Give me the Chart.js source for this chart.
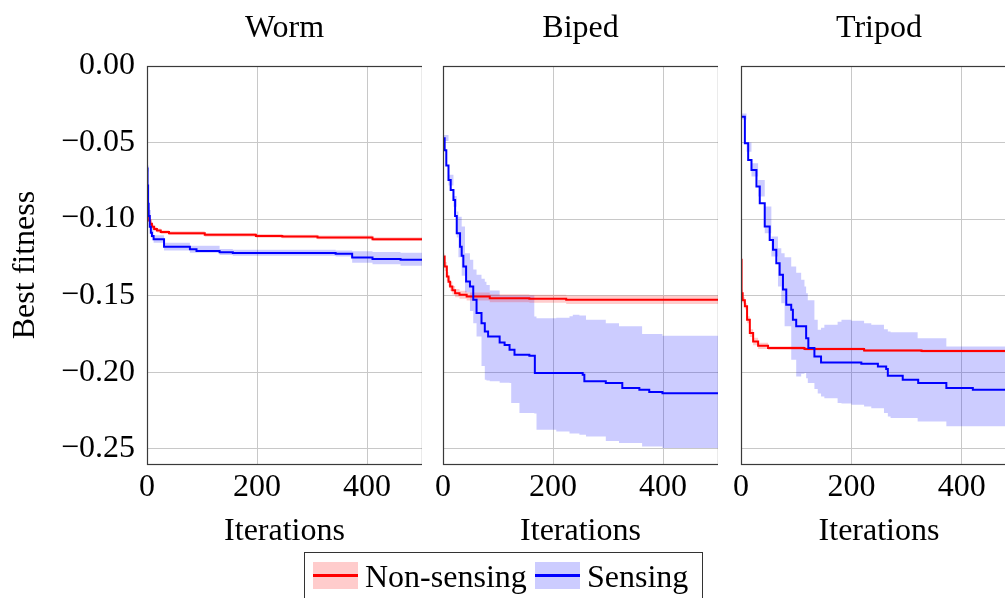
<!DOCTYPE html>
<html>
<head>
<meta charset="utf-8">
<script src="https://cdn.jsdelivr.net/npm/chart.js@4/dist/chart.umd.min.js"></script>
<style>
  html, body { margin: 0; padding: 0; background: #fff; overflow: hidden; width: 1005px; height: 598px; }
  canvas { position: absolute; top: 0; }
  #legend { position: absolute; left: 304px; top: 552px; width: 399px; height: 60px;
            border: 1px solid #333; box-sizing: border-box; font: 32px 'Liberation Serif', serif; color: #000; }
  #legend .sw { position: absolute; top: 9px; width: 45px; height: 27px; }
  #legend .lbl { position: absolute; top: 1px; line-height: 44px; white-space: nowrap; }
</style>
</head>
<body>
<canvas id="chart-worm"   width="422" height="551" style="left:0px"></canvas>
<canvas id="chart-biped"  width="422" height="551" style="left:296px"></canvas>
<canvas id="chart-tripod" width="423" height="551" style="left:594px"></canvas>

<div id="legend">
  <span class="sw" style="left:8px;background:linear-gradient(to bottom, transparent 12px, #f00 12px, #f00 15px, transparent 15px), rgba(255,0,0,0.2)"></span>
  <span class="lbl" style="left:60px">Non-sensing</span>
  <span class="sw" style="left:230px;background:linear-gradient(to bottom, transparent 12px, #00f 12px, #00f 15px, transparent 15px), rgba(0,0,255,0.2)"></span>
  <span class="lbl" style="left:282px">Sensing</span>
</div>

<script>
/*  Best fitness vs iterations, three robots side by side.
 *  Each panel: mean line + shaded spread for the non-sensing (red)
 *  and sensing (blue) runs.
 *  Panel name sits on a bare top axis so it centres over the plot box.
 */

const RED = '#ff0000'
const BLUE = '#0000ff'
const RED_BAND = 'rgba(255,0,0,0.2)'
const BLUE_BAND = 'rgba(0,0,255,0.2)'
const GRID = '#c8c8c8'
const AXIS = '#3a3a3a'
const FONT = { family: "'Liberation Serif', serif", size: 32, weight: 'normal' }

const X_MIN = 0, X_MAX = 500, X_STEP = 200
const Y_MIN = -0.26, Y_MAX = 0, Y_STEP = 0.05

// ---- Worm ----
const wormRedX  = [0, 2, 4, 6, 9, 13, 18, 25, 40, 105, 198, 246, 310, 410, 500]
const wormRedY  = [-0.093, -0.098, -0.101, -0.103, -0.105, -0.1065, -0.1075, -0.1085, -0.1092, -0.1103, -0.111, -0.1114, -0.112, -0.1131, -0.1131]
const wormRedHi = [-0.0915, -0.0965, -0.0995, -0.1015, -0.1035, -0.1052, -0.1062, -0.1073, -0.108, -0.1091, -0.1098, -0.1102, -0.1108, -0.1119, -0.1119]
const wormRedLo = [-0.0945, -0.0995, -0.1025, -0.1045, -0.1065, -0.1078, -0.1088, -0.1097, -0.1104, -0.1115, -0.1122, -0.1126, -0.1132, -0.1143, -0.1143]

const wormBlueX = [0, 1, 2, 3, 5, 7, 9, 12, 31, 78, 90, 132, 156, 343, 373, 410, 461, 500]
const wormBlueY = [-0.067, -0.078, -0.090, -0.098, -0.105, -0.109, -0.111, -0.1131, -0.118, -0.1197, -0.1208, -0.1216, -0.1221, -0.1227, -0.1251, -0.126, -0.1266, -0.1266]
const wormBandX  = [0, 3, 7, 12, 31, 78, 132, 156, 343, 373, 410, 461, 500]
const wormBandHi = [-0.065, -0.094, -0.106, -0.1105, -0.1155, -0.1175, -0.1195, -0.120, -0.1205, -0.121, -0.1215, -0.122, -0.122]
const wormBandLo = [-0.069, -0.102, -0.112, -0.1155, -0.1205, -0.122, -0.1235, -0.124, -0.1245, -0.1285, -0.1295, -0.1305, -0.1305]

// ---- Biped ----
const bipedRedX  = [0, 3, 7, 10, 13, 17, 22, 30, 43, 85, 157, 224, 500]
const bipedRedY  = [-0.1245, -0.131, -0.1375, -0.141, -0.144, -0.1465, -0.1484, -0.1495, -0.1506, -0.1517, -0.152, -0.1527, -0.1532]
const bipedRedHi = [-0.1225, -0.128, -0.1345, -0.138, -0.141, -0.1437, -0.1457, -0.1469, -0.148, -0.1491, -0.1494, -0.150, -0.1505]
const bipedRedLo = [-0.1265, -0.134, -0.1405, -0.144, -0.147, -0.1493, -0.1511, -0.1521, -0.1532, -0.1543, -0.1546, -0.1554, -0.1559]

const bipedBlueX = [0, 3, 6, 10, 14, 19, 22, 25, 31, 34, 37, 42, 49, 55, 61, 70, 76, 82, 103, 112, 121, 130, 157, 167, 254, 257, 296, 326, 357, 375, 399, 500]
const bipedBlueY = [-0.0472, -0.055, -0.065, -0.0744, -0.081, -0.0875, -0.098, -0.1092, -0.118, -0.124, -0.131, -0.1408, -0.144, -0.1527, -0.1614, -0.168, -0.1734, -0.1767, -0.1806, -0.1822, -0.1854, -0.1886, -0.1893, -0.2006, -0.2017, -0.206, -0.2071, -0.2104, -0.2115, -0.213, -0.2137, -0.2137]
const bipedBandX  = [0, 10, 19, 25, 28, 34, 40, 49, 55, 61, 70, 76, 79, 85, 103, 121, 124, 139, 166, 170, 176, 206, 230, 236, 248, 260, 296, 320, 362, 399, 500]
const bipedBandHi = [-0.045, -0.071, -0.085, -0.095, -0.0984, -0.1049, -0.1223, -0.1266, -0.133, -0.1364, -0.139, -0.141, -0.143, -0.1467, -0.150, -0.150, -0.150, -0.150, -0.1636, -0.1648, -0.1648, -0.1645, -0.1635, -0.1625, -0.163, -0.1658, -0.168, -0.170, -0.175, -0.1763, -0.1765]
const bipedBandLo = [-0.049, -0.078, -0.092, -0.112, -0.125, -0.137, -0.148, -0.160, -0.168, -0.1767, -0.196, -0.205, -0.2055, -0.206, -0.207, -0.2071, -0.2202, -0.2267, -0.227, -0.2376, -0.2376, -0.2387, -0.240, -0.240, -0.2409, -0.242, -0.245, -0.2463, -0.2485, -0.2496, -0.2503]

// ---- Tripod ----
const tripodRedX  = [0, 1, 3, 7, 11, 16, 22, 31, 49, 115, 223, 327, 500]
const tripodRedY  = [-0.1266, -0.1484, -0.153, -0.157, -0.1658, -0.1745, -0.180, -0.1828, -0.1843, -0.1849, -0.1858, -0.1862, -0.1864]
const tripodRedHi = [-0.1256, -0.146, -0.151, -0.155, -0.1635, -0.172, -0.1775, -0.1808, -0.1831, -0.1839, -0.1848, -0.1852, -0.1854]
const tripodRedLo = [-0.1276, -0.1508, -0.155, -0.159, -0.168, -0.177, -0.1825, -0.1848, -0.1855, -0.1859, -0.1868, -0.1872, -0.1874]

const tripodBlueX = [0, 7, 13, 19, 28, 34, 43, 52, 58, 64, 70, 76, 82, 91, 94, 100, 118, 122, 133, 145, 218, 248, 263, 266, 293, 321, 372, 420, 500]
const tripodBlueY = [-0.0331, -0.0505, -0.0614, -0.0679, -0.0788, -0.0896, -0.1049, -0.1136, -0.120, -0.1288, -0.1364, -0.146, -0.156, -0.1593, -0.1658, -0.170, -0.1778, -0.1843, -0.1898, -0.1937, -0.1945, -0.1963, -0.198, -0.2023, -0.205, -0.2071, -0.2104, -0.2115, -0.2115]
const tripodBandX  = [0, 10, 19, 31, 43, 55, 67, 73, 79, 91, 100, 109, 115, 118, 121, 133, 139, 145, 151, 175, 182, 200, 223, 236, 259, 266, 271, 320, 372, 500]
const tripodBandHi = [-0.031, -0.05, -0.0635, -0.0744, -0.0918, -0.1114, -0.119, -0.1223, -0.125, -0.131, -0.135, -0.1397, -0.144, -0.1484, -0.153, -0.1658, -0.1723, -0.171, -0.169, -0.167, -0.1658, -0.1665, -0.168, -0.169, -0.172, -0.1734, -0.174, -0.1778, -0.1832, -0.1843]
const tripodBandLo = [-0.035, -0.056, -0.0722, -0.0853, -0.1092, -0.1245, -0.144, -0.155, -0.170, -0.1919, -0.2028, -0.201, -0.2006, -0.204, -0.2071, -0.211, -0.214, -0.2159, -0.217, -0.2202, -0.2205, -0.2213, -0.2224, -0.2235, -0.2267, -0.229, -0.230, -0.2322, -0.2354, -0.2376]

const pts = (xs, ys) => xs.map((x, i) => ({ x, y: ys[i] }))
const fmtY = v => (v < -1e-9 ? '\u2212' : '') + Math.abs(v).toFixed(2)

// pgfplots-style closed box round the plot area
const frame = {
  id: 'frame',
  afterDatasetsDraw(chart) {
    const { ctx, chartArea: a } = chart
    ctx.save()
    ctx.strokeStyle = AXIS
    ctx.lineWidth = 1.2
    ctx.strokeRect(Math.round(a.left) + 0.5, Math.round(a.top) + 0.5,
                   Math.round(a.right - a.left), Math.round(a.bottom - a.top))
    ctx.restore()
  },
}

function panel(id, title, s, showY) {
  const series = (label, data, opts) => ({
    label, data, stepped: true, pointRadius: 0, borderWidth: 0,
    borderColor: 'rgba(0,0,0,0)', fill: false, ...opts,
  })
  new Chart(document.getElementById(`chart-${id}`), {
    type: 'line',
    plugins: [frame],
    data: {
      // index 0 drawn last (on top): blue line, red line, red band, blue band
      datasets: [
        series('Sensing',     pts(s.blueX, s.blueY), { borderColor: BLUE, borderWidth: 2 }),
        series('Non-sensing', pts(s.redX, s.redY),   { borderColor: RED,  borderWidth: 2 }),
        series('red hi',  pts(s.redX, s.redHi),   { fill: '+1', backgroundColor: RED_BAND }),
        series('red lo',  pts(s.redX, s.redLo)),
        series('blue hi', pts(s.bandX, s.bandHi), { fill: '+1', backgroundColor: BLUE_BAND }),
        series('blue lo', pts(s.bandX, s.bandLo)),
      ],
    },
    options: {
      responsive: false, animation: false, devicePixelRatio: 1,
      layout: { padding: 0 },
      plugins: {
        legend: { display: false },
        tooltip: { enabled: false },
      },
      scales: {
        x: {
          type: 'linear', min: X_MIN, max: X_MAX,
          ticks: { stepSize: X_STEP, includeBounds: false, font: FONT, color: '#000',
                   padding: 4, maxRotation: 0 },
          grid: { color: GRID, drawTicks: false },
          border: { display: false },
          title: { display: true, text: 'Iterations', font: FONT, color: '#000',
                   padding: { top: 0, bottom: 0 } },
          afterFit: sc => { sc.height = 87 },
        },
        top: {
          type: 'linear', axis: 'x', position: 'top', min: X_MIN, max: X_MAX,
          ticks: { display: false },
          grid: { display: false },
          border: { display: false },
          title: { display: true, text: title, font: FONT, color: '#000',
                   padding: { top: 9, bottom: 0 } },
          afterFit: sc => { sc.height = 66 },
        },
        y: {
          type: 'linear', min: Y_MIN, max: Y_MAX,
          ticks: { display: showY, stepSize: Y_STEP, includeBounds: false, font: FONT,
                   color: '#000', padding: 12, callback: fmtY },
          grid: { color: GRID, drawTicks: false },
          border: { display: false },
          title: { display: showY, text: 'Best fitness', font: FONT, color: '#000',
                   padding: { top: 6, bottom: 0 } },
          afterFit: sc => { sc.width = 147 },
        },
      },
    },
  })
}

panel('worm', 'Worm', {
  redX: wormRedX, redY: wormRedY, redHi: wormRedHi, redLo: wormRedLo,
  blueX: wormBlueX, blueY: wormBlueY, bandX: wormBandX, bandHi: wormBandHi, bandLo: wormBandLo,
}, true)

panel('biped', 'Biped', {
  redX: bipedRedX, redY: bipedRedY, redHi: bipedRedHi, redLo: bipedRedLo,
  blueX: bipedBlueX, blueY: bipedBlueY, bandX: bipedBandX, bandHi: bipedBandHi, bandLo: bipedBandLo,
}, false)

panel('tripod', 'Tripod', {
  redX: tripodRedX, redY: tripodRedY, redHi: tripodRedHi, redLo: tripodRedLo,
  blueX: tripodBlueX, blueY: tripodBlueY, bandX: tripodBandX, bandHi: tripodBandHi, bandLo: tripodBandLo,
}, false)
</script>
</body>
</html>
